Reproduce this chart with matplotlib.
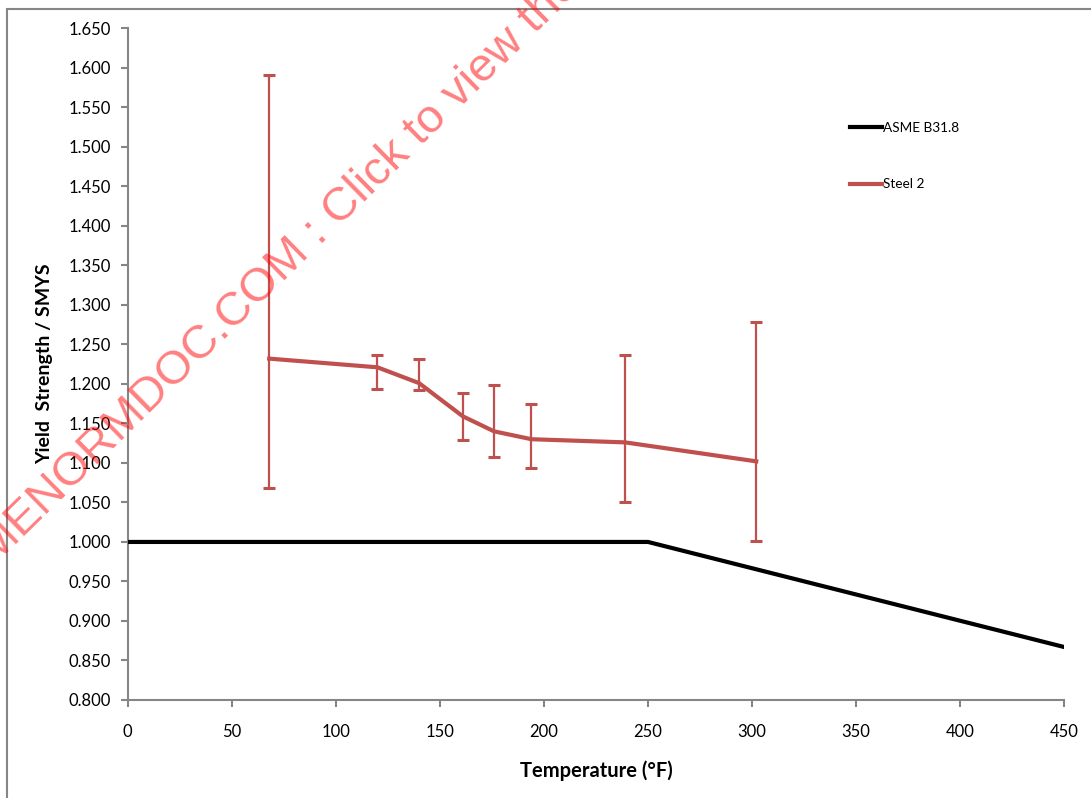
import matplotlib
matplotlib.use("Agg")
import matplotlib.pyplot as plt
from matplotlib.patches import Rectangle
from matplotlib.lines import Line2D

# ---- data ----
asme_temp = [0, 250, 450]
asme_ratio = [1.000, 1.000, 0.867]

steel_temp = [68, 120, 140, 161, 176, 194, 239, 302]
steel_ratio = [1.232, 1.221, 1.201, 1.159, 1.140, 1.130, 1.126, 1.102]
steel_upper = [1.591, 1.237, 1.232, 1.189, 1.199, 1.175, 1.237, 1.278]
steel_lower = [1.068, 1.194, 1.192, 1.129, 1.107, 1.093, 1.051, 1.001]

x_ticks = [0, 50, 100, 150, 200, 250, 300, 350, 400, 450]
y_ticks = [0.80 + 0.05 * i for i in range(18)]

W, H = 1091, 798
fig = plt.figure(figsize=(W / 100, H / 100), dpi=100)
plt.rcParams['font.family'] = ['Lato', 'DejaVu Sans']

ax = fig.add_axes([127.7 / W, 1 - 700 / H, (1064.3 - 127.7) / W, (700 - 28.3) / H])

red = '#C0504D'
yerr_low = [r - l for r, l in zip(steel_ratio, steel_lower)]
yerr_up = [u - r for r, u in zip(steel_ratio, steel_upper)]

ax.plot(asme_temp, asme_ratio, color='black', lw=3.0, label='ASME B31.8',
        solid_capstyle='round', zorder=3)
ax.errorbar(steel_temp, steel_ratio, yerr=[yerr_low, yerr_up], color=red,
            lw=3.0, ecolor=red, elinewidth=1.6, capsize=4, capthick=2.2,
            label='Steel 2', zorder=4)

ax.set_xlim(0, 450)
ax.set_ylim(0.8, 1.65)
ax.set_xticks(x_ticks)
ax.set_xticklabels([str(t) for t in x_ticks])
ax.set_yticks(y_ticks)
ax.set_yticklabels([f"{t:.3f}" for t in y_ticks])

for s in ['top', 'right']:
    ax.spines[s].set_visible(False)
for s in ['left', 'bottom']:
    ax.spines[s].set_color('#868686')
    ax.spines[s].set_linewidth(1.5)

ax.tick_params(axis='both', direction='out', length=5, width=1.5,
               color='#868686', labelsize=12, labelcolor='black')
ax.tick_params(axis='y', pad=7)
ax.tick_params(axis='x', pad=12)

ax.set_xlabel('Temperature (°F)', fontsize=14.5, fontweight='bold', labelpad=15)
ax.set_ylabel('Yield  Strength / SMYS', fontsize=14, fontweight='bold', labelpad=11)

leg_handles = [Line2D([], [], color='black', lw=3.0),
               Line2D([], [], color=red, lw=3.0)]
fig.legend(leg_handles, ['ASME B31.8', 'Steel 2'], loc='upper left',
           bbox_to_anchor=(838 / W, 1 - 110 / H), frameon=False,
           fontsize=9.8, handlelength=2.3, handletextpad=0.1,
           labelspacing=3.25)

# outer chart frame
fig.patches.append(Rectangle((7 / W, -0.1), 1.2, 1.1 - 9 / H, fill=False,
                             edgecolor='#868686', lw=1.5,
                             transform=fig.transFigure, zorder=0))

# watermark
fig.text(-6 / W, 1 - 566 / H, 'MENORMDOC.COM : Click to view the full PDF',
         fontsize=34, color='#ff0000', alpha=0.5, rotation=44.5,
         rotation_mode='anchor', ha='left', va='baseline',
         family=['Liberation Sans', 'DejaVu Sans'], zorder=10)

fig.savefig('out.png', dpi=100)
